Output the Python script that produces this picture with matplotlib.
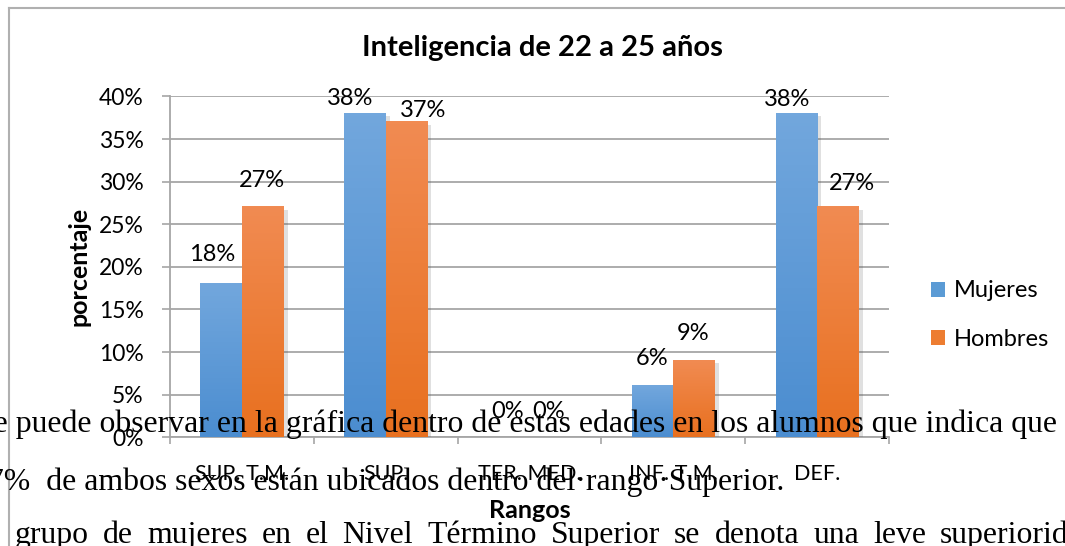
import numpy as np
import matplotlib.pyplot as plt
import matplotlib.patheffects as pe
from matplotlib.colors import LinearSegmentedColormap
from matplotlib.patches import Patch
from matplotlib.lines import Line2D

categorias = ['SUP. T.M.', 'SUP.', 'TER. MED.', 'INF. T.M.', 'DEF.']
mujeres = [18, 38, 0, 6, 38]
hombres = [27, 37, 0, 9, 27]
series = ['Mujeres', 'Hombres']
titulo = 'Inteligencia de 22 a 25 años'

# text of the document page that sits over the chart
linea1 = 'Se puede observar en la gráfica dentro de estas edades en los alumnos que indica que'
linea2 = '27%  de ambos sexos están ubicados dentro del·rango·Superior.'
linea3 = 'grupo de mujeres en el Nivel Término Superior se denota una leve superioridad'

W, H = 1065, 546
plt.rcParams['font.family'] = ['Lato', 'DejaVu Sans']

fig = plt.figure(figsize=(W / 100, H / 100), dpi=100)
ax = fig.add_axes([170 / W, 1 - 437.3 / H, 719 / W, 340.9 / H])

azul = ['#72a7dd', '#4b8dd0']
naranja = ['#f18b52', '#e8701f']
cm_az = LinearSegmentedColormap.from_list('az', [azul[1], azul[0]])
cm_na = LinearSegmentedColormap.from_list('na', [naranja[1], naranja[0]])

x = np.arange(len(categorias))
w = 0.289
sombra = [pe.SimplePatchShadow(offset=(3, -2), alpha=0.18, shadow_rgbFace='#555555'), pe.Normal()]
b1 = ax.bar(x - w / 2, mujeres, w, color='#5b9bd5', zorder=3, path_effects=sombra)
b2 = ax.bar(x + w / 2, hombres, w, color='#ed7d31', zorder=3, path_effects=sombra)

grad = np.linspace(0, 1, 100).reshape(-1, 1)
for bars, cm in ((b1, cm_az), (b2, cm_na)):
    for r in bars:
        h = r.get_height()
        if h <= 0:
            continue
        x0 = r.get_x()
        ax.imshow(grad, extent=[x0, x0 + r.get_width(), 0, h], origin='lower',
                  aspect='auto', cmap=cm, zorder=4)

ax.set_xlim(-0.5, 4.5)
ax.set_ylim(0, 40)

# data labels (pixel nudges to mimic the original placement)
nudge_m = [(-8.6, 28.9), (-14.8, 14.8), (-1, 25.6), (0, 27.2), (-9.3, 14)]
nudge_h = [(-0.5, 26.6), (17, 11.2), (-1.3, 25.6), (-1.3, 26.6), (14.2, 24)]
for vals, off, nud in ((mujeres, -w / 2, nudge_m), (hombres, w / 2, nudge_h)):
    for i, v in enumerate(vals):
        dx, dy = nud[i]
        ax.annotate(f'{v}%', (i + off, v), xytext=(dx * 0.72, dy * 0.72),
                    textcoords='offset points', ha='center', va='center',
                    fontsize=17, zorder=6)

ax.set_yticks(np.arange(0, 41, 5))
ax.set_yticklabels([f'{t}%' for t in range(0, 41, 5)], fontsize=16.5)
ax.set_xticks(x)
ax.set_xticklabels(categorias, fontsize=15.5)
ax.set_xticks(np.arange(-0.5, 5, 1), minor=True)
ax.tick_params(axis='x', which='major', length=0, pad=19)
ax.tick_params(axis='x', which='minor', length=5, color='#a6a6a6', width=1.2)
ax.tick_params(axis='y', length=6, color='#a6a6a6', width=1.2, pad=13)
ax.yaxis.grid(True, color='#a6a6a6', linewidth=1.3, zorder=0)
ax.set_axisbelow(True)
for s in ('top', 'right'):
    ax.spines[s].set_visible(False)
for s in ('left', 'bottom'):
    ax.spines[s].set_color('#a6a6a6')
    ax.spines[s].set_linewidth(1.3)

fig.text(542 / W, 1 - 48 / H, titulo, ha='center', va='center', fontsize=21, fontweight='bold')
fig.text(79 / W, 1 - 266 / H, 'porcentaje', rotation=90, ha='center', va='center',
         fontsize=18, fontweight='bold')
fig.text(529.5 / W, 1 - 511 / H, 'Rangos', ha='center', va='center', fontsize=18, fontweight='bold')

handles = [Patch(facecolor='#5b9bd5'), Patch(facecolor='#ed7d31')]
fig.legend(handles, series, loc='center left', bbox_to_anchor=(910 / W, 1 - 315 / H),
           frameon=False, fontsize=17, handlelength=0.6, handleheight=0.6,
           handletextpad=0.35, labelspacing=1.15)

# chart frame
fig.add_artist(Line2D([8.5 / W, 1], [1 - 7.5 / H, 1 - 7.5 / H], color='#b0b0b0', lw=1.5))
fig.add_artist(Line2D([8.5 / W, 8.5 / W], [0, 1 - 7.5 / H], color='#b0b0b0', lw=1.5))

# overlaid page text
serif = dict(family=['Liberation Serif', 'DejaVu Serif'], fontsize=22.83, color='black',
             va='baseline', zorder=10)
fig.text(1057 / W, 1 - 432 / H, linea1, ha='right', **serif)
fig.text(784 / W, 1 - 490 / H, linea2, ha='right', **serif)

# justified last line
r = fig.canvas.get_renderer()
palabras = linea3.split()
anchos = []
for p in palabras:
    t = fig.text(0, 0, p, **serif)
    anchos.append(t.get_window_extent(r).width)
    t.remove()
x_ini, x_ult = 15, 940
gap = (x_ult - x_ini - sum(anchos[:-1])) / (len(palabras) - 1)
xp = x_ini
for p, a in zip(palabras, anchos):
    fig.text(xp / W, 1 - 543 / H, p, ha='left', **serif)
    xp += a + gap

fig.savefig('out.png', dpi=100)
